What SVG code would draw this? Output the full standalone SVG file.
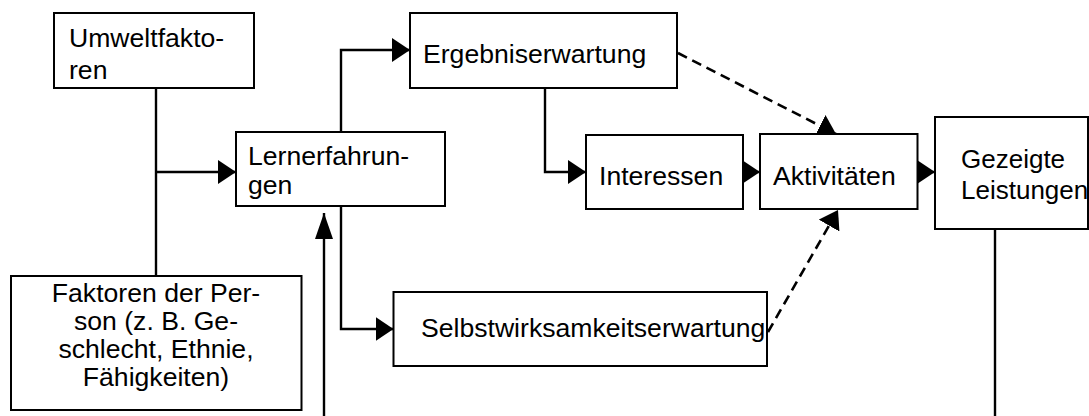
<svg xmlns="http://www.w3.org/2000/svg" width="1089" height="416" viewBox="0 0 1089 416">
<style>
  .box { fill: #ffffff; stroke: #000000; stroke-width: 2; }
  .t { font-family: "Liberation Sans", Arial, sans-serif; font-size: 26.6px; fill: #000000; }
  .s { font-size: 26px; }
  .c { text-anchor: middle; }
  .ln { fill: none; stroke: #000000; stroke-width: 2.4; }
  .dash { stroke-dasharray: 10 6; stroke-width: 2.6; }
</style>
<defs>
  <marker id="ah" markerUnits="userSpaceOnUse" viewBox="0 0 18 24" refX="18" refY="12" markerWidth="18" markerHeight="24" orient="auto">
    <path d="M0,0 L18,12 L0,24 Z" fill="#000000"/>
  </marker>
  <marker id="ahLong" markerUnits="userSpaceOnUse" viewBox="0 0 26 18" refX="26" refY="9" markerWidth="26" markerHeight="18" orient="auto">
    <path d="M0,0 L26,9 L0,18 Z" fill="#000000"/>
  </marker>
</defs>

<g id="connectors">
  <path class="ln" d="M156,88 V276"/>
  <path class="ln" d="M156,172 H236" marker-end="url(#ah)"/>
  <path class="ln" d="M341,132 V50 H410" marker-end="url(#ah)"/>
  <path class="ln" d="M341,206 V329 H393.5" marker-end="url(#ah)"/>
  <path class="ln" d="M324,416 V213" marker-end="url(#ahLong)"/>
  <path class="ln" d="M545,88 V172 H586" marker-end="url(#ah)"/>
  <path class="ln" d="M743,172 H760" marker-end="url(#ah)"/>
  <path class="ln" d="M917,172 H935" marker-end="url(#ah)"/>
  <path class="ln" d="M995,229 V416"/>
  <path class="ln dash" d="M678,53 L836,134" marker-end="url(#ah)"/>
  <path class="ln dash" d="M768,332 L838,210" marker-end="url(#ah)"/>
</g>

<g id="umweltfaktoren">
  <rect class="box" x="54" y="13" width="200" height="75"/>
  <text class="t" x="69" y="46.5">Umweltfakto-</text>
  <text class="t" x="69" y="78.5">ren</text>
</g>

<g id="lernerfahrungen">
  <rect class="box" x="236" y="132" width="209" height="74"/>
  <text class="t" x="248" y="165">Lernerfahrun-</text>
  <text class="t" x="248" y="193.5">gen</text>
</g>

<g id="ergebniserwartung">
  <rect class="box" x="410" y="13" width="267" height="75"/>
  <text class="t" x="423" y="63">Ergebniserwartung</text>
</g>

<g id="interessen">
  <rect class="box" x="586" y="135" width="157" height="74"/>
  <text class="t" x="599" y="185">Interessen</text>
</g>

<g id="aktivitaeten">
  <rect class="box" x="760" y="134" width="157.5" height="75"/>
  <text class="t" x="773" y="185">Aktivitäten</text>
</g>

<g id="gezeigte-leistungen">
  <rect class="box" x="935" y="117" width="153" height="112"/>
  <text class="t s" x="961" y="168">Gezeigte</text>
  <text class="t s" x="961" y="199">Leistungen</text>
</g>

<g id="selbstwirksamkeitserwartung">
  <rect class="box" x="393.5" y="292" width="373.5" height="74"/>
  <text class="t" x="421" y="337">Selbstwirksamkeitserwartung</text>
</g>

<g id="faktoren-der-person">
  <rect class="box" x="11" y="276" width="290.5" height="134"/>
  <text class="t c" x="156" y="301.5">Faktoren der Per-</text>
  <text class="t c" x="156" y="329.5">son (z. B. Ge-</text>
  <text class="t c" x="156" y="357.5">schlecht, Ethnie,</text>
  <text class="t c" x="156" y="385.5">Fähigkeiten)</text>
</g>
</svg>
